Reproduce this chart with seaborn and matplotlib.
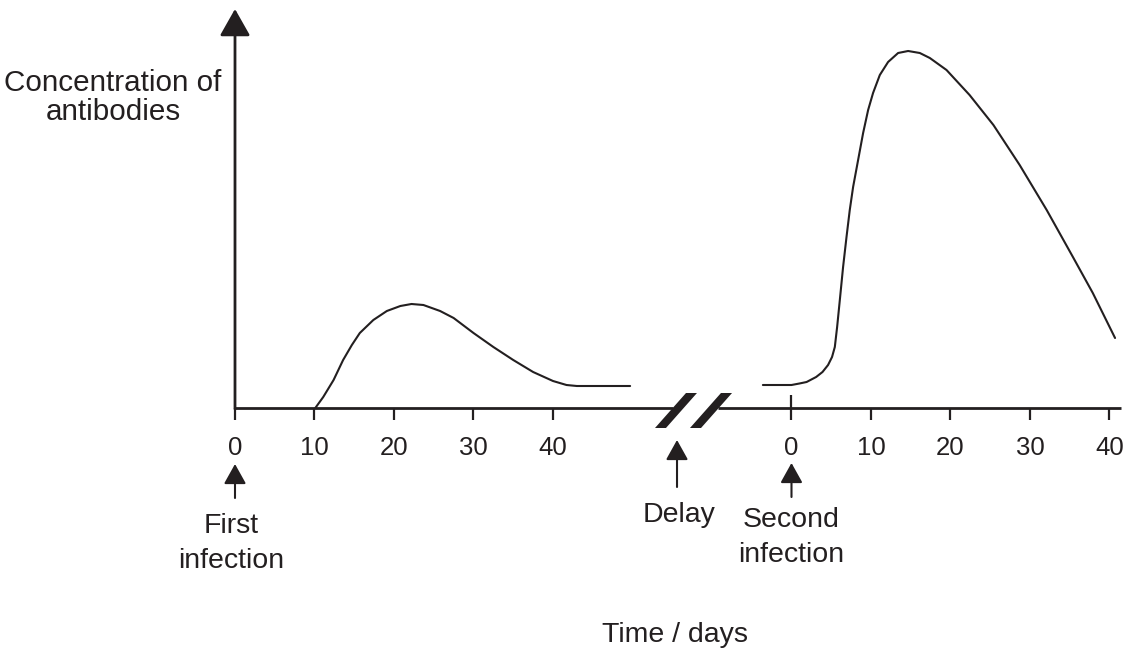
import numpy as np
import pandas as pd
import seaborn as sns
import matplotlib.pyplot as plt

# данные (концентрация в условных единицах)
first_days = [10.1, 11.1, 12.4, 13.6, 14.7, 15.7, 17.4, 19.1, 20.8, 22.2, 23.7,
              25.8, 27.5, 30.0, 32.5, 35.0, 37.5, 40.0, 41.7, 43.0, 49.7]
first_conc = [0, 11, 28, 48, 63, 75, 88, 97, 102, 104, 103,
              97, 90, 75, 61, 48, 36, 27, 23, 22, 22]

second_days = [-3.6, 0.0, 1.0, 1.9, 3.1, 3.9, 4.6, 5.1, 5.45, 5.74, 6.08, 6.49, 6.92,
               7.33, 7.75, 8.38, 9.01, 9.64, 10.26, 11.11, 12.15, 13.41, 14.67,
               16.14, 17.4, 19.5, 22.4, 25.4, 28.7, 32.1, 35.4, 37.9, 40.7]
second_conc = [23, 23, 24.5, 26, 31, 36, 43, 51, 61, 81, 108, 141, 171,
               198, 221, 248, 275, 298, 315, 333, 346, 355, 357,
               355, 350, 338, 313, 283, 243, 198, 151, 115, 70]

tick_days = [0, 10, 20, 30, 40]
delay_gap = 70  # сдвиг второй шкалы после разрыва

y_label = ['Concentration of', 'antibodies']
x_label = 'Time / days'
first_label = ['First', 'infection']
second_label = ['Second', 'infection']
delay_label = 'Delay'

df1 = pd.DataFrame({'day': first_days, 'conc': first_conc})
df2 = pd.DataFrame({'day': np.array(second_days) + delay_gap, 'conc': second_conc})

sns.set_theme(style='white')
plt.rcParams['font.family'] = ['Liberation Sans', 'DejaVu Sans']

fig = plt.figure(figsize=(11.3, 6.51), dpi=100)
ax = fig.add_axes([0, 0, 1, 1])
ax.set_xlim(-29.56, 112.58)
ax.set_ylim(-243, 408)
ax.axis('off')

ink = '#231f20'
for d in (df1, df2):
    sns.lineplot(data=d, x='day', y='conc', color=ink, lw=1.5, estimator=None,
                 solid_joinstyle='round', ax=ax)

# ось x с разрывом
ax.plot([0, 55.1], [0, 0], color=ink, lw=2, solid_capstyle='butt')
ax.plot([60.75, 111.5], [0, 0], color=ink, lw=2, solid_capstyle='butt')
ax.fill([52.83, 54.21, 58.11, 56.73], [-20, -20, 15, 15], color=ink, lw=0)
ax.fill([57.23, 58.62, 62.52, 61.13], [-20, -20, 15, 15], color=ink, lw=0)

# ось y со стрелкой
ax.annotate('', xy=(0, 399), xytext=(0, -1),
            arrowprops=dict(arrowstyle='-|>,head_length=0.83,head_width=0.47',
                            color=ink, lw=2, shrinkA=0, shrinkB=0, mutation_scale=20))

# деления и подписи
for d in tick_days:
    ax.vlines(d, -12, 0, color=ink, lw=1.6)
    ax.text(d, -47, str(d), ha='center', va='baseline', fontsize=18.5, color=ink)
    top = 13 if d == 0 else 0
    ax.vlines(d + delay_gap, -12, top, color=ink, lw=1.6)
    ax.text(d + delay_gap, -47, str(d), ha='center', va='baseline', fontsize=18.5, color=ink)

small = dict(arrowstyle='-|>,head_length=0.61,head_width=0.34',
             color=ink, lw=1.5, shrinkA=0, shrinkB=0, mutation_scale=20)
ax.annotate('', xy=(0, -56), xytext=(0, -90), arrowprops=small)
ax.annotate('', xy=(delay_gap, -55), xytext=(delay_gap, -89), arrowprops=small)
ax.annotate('', xy=(55.6, -32), xytext=(55.6, -79), arrowprops=small)

fs = 20.5
ax.text(-0.5, -125, first_label[0], ha='center', va='baseline', fontsize=fs, color=ink)
ax.text(-0.5, -160, first_label[1], ha='center', va='baseline', fontsize=fs, color=ink)
ax.text(69.9, -119, second_label[0], ha='center', va='baseline', fontsize=fs, color=ink)
ax.text(69.9, -153.7, second_label[1], ha='center', va='baseline', fontsize=fs, color=ink)
ax.text(55.85, -114, delay_label, ha='center', va='baseline', fontsize=fs, color=ink)
ax.text(55.35, -234, x_label, ha='center', va='baseline', fontsize=fs, color=ink)
ax.text(-15.4, 317.3, y_label[0], ha='center', va='baseline', fontsize=21.3, color=ink)
ax.text(-15.3, 288, y_label[1], ha='center', va='baseline', fontsize=21.3, color=ink)

fig.savefig('out.png', dpi=100, facecolor='white')
